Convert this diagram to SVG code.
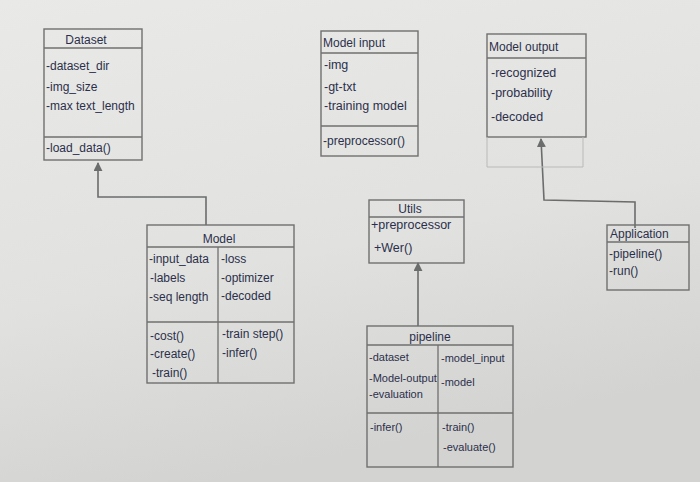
<svg xmlns="http://www.w3.org/2000/svg" width="700" height="482" viewBox="0 0 700 482">
<defs>
<linearGradient id="bg" x1="0" y1="0" x2="0.3" y2="1">
<stop offset="0" stop-color="#e9eae7"/>
<stop offset="0.6" stop-color="#e1e2df"/>
<stop offset="1" stop-color="#d3d4d1"/>
</linearGradient>
<marker id="tri" viewBox="0 0 10 10" refX="9" refY="5" markerWidth="9" markerHeight="9" orient="auto" markerUnits="userSpaceOnUse">
<path d="M0,0 L10,5 L0,10 Z" fill="#6b6c6c"/>
</marker>
<style>
.box{fill:none;stroke:#6f706f;stroke-width:1.4}
.ln{stroke:#6f706f;stroke-width:1.3;fill:none}
.faint{stroke:#b9bab8;stroke-width:1;fill:none}
.t{font-family:"Liberation Sans",Arial,sans-serif;font-size:11px;fill:#2c2f4c}
.m{font-size:12px}
.l{font-size:12.5px}
.c{text-anchor:middle}
.con{stroke:#6b6c6c;stroke-width:1.6;fill:none}
</style>
</defs>
<rect width="700" height="482" fill="url(#bg)"/>

<g id="connectors">
<polyline class="con" points="206,225 206,197 98,197 98,163" marker-end="url(#tri)"/>
<polyline class="con" points="418,326 418,263" marker-end="url(#tri)"/>
<polyline class="con" points="635,228 635,202 544,200 541,139" marker-end="url(#tri)"/>
</g>

<g id="dataset">
<rect class="box" x="44" y="29" width="98" height="131"/>
<line class="ln" x1="44" y1="48" x2="142" y2="48"/>
<line class="ln" x1="44" y1="137" x2="142" y2="137"/>
<text class="t m c" x="86" y="44">Dataset</text>
<text class="t m" x="46" y="70">-dataset_dir</text>
<text class="t m" x="46" y="91">-img_size</text>
<text class="t m" x="46" y="110">-max text_length</text>
<text class="t m" x="46" y="152">-load_data()</text>
</g>

<g id="model-input">
<rect class="box" x="321" y="31" width="97" height="125"/>
<line class="ln" x1="321" y1="53" x2="418" y2="53"/>
<line class="ln" x1="321" y1="126" x2="418" y2="126"/>
<text class="t m" x="323" y="47">Model input</text>
<text class="t l" x="324" y="69">-img</text>
<text class="t l" x="324" y="91">-gt-txt</text>
<text class="t l" x="324" y="110">-training model</text>
<text class="t m" x="323" y="145">-preprocessor()</text>
</g>

<g id="model-output">
<rect class="box" x="487" y="34" width="99" height="103"/>
<line class="ln" x1="487" y1="58" x2="586" y2="58"/>
<polyline class="faint" points="487,137 487,167 583,167 583,137"/>
<text class="t m" x="489" y="51">Model  output</text>
<text class="t l" x="491" y="77">-recognized</text>
<text class="t l" x="491" y="97">-probability</text>
<text class="t l" x="491" y="121">-decoded</text>
</g>

<g id="application">
<rect class="box" x="607" y="225" width="82" height="65"/>
<line class="ln" x1="607" y1="242" x2="689" y2="242"/>
<text class="t m" x="610" y="238">Application</text>
<text class="t m" x="609" y="258">-pipeline()</text>
<text class="t m" x="609" y="275">-run()</text>
</g>

<g id="utils">
<rect class="box" x="369" y="200" width="95" height="63"/>
<line class="ln" x1="369" y1="217" x2="464" y2="217"/>
<text class="t m c" x="410" y="213">Utils</text>
<text class="t l" x="371" y="229">+preprocessor</text>
<text class="t l" x="374" y="252">+Wer()</text>
</g>

<g id="model">
<rect class="box" x="147" y="225" width="147" height="158"/>
<line class="ln" x1="147" y1="247" x2="294" y2="247"/>
<line class="ln" x1="147" y1="322" x2="294" y2="322"/>
<line class="ln" x1="218" y1="247" x2="218" y2="383"/>
<text class="t m c" x="219" y="243">Model</text>
<text class="t m" x="149" y="263">-input_data</text>
<text class="t m" x="150" y="282">-labels</text>
<text class="t m" x="149" y="301">-seq length</text>
<text class="t m" x="221" y="263">-loss</text>
<text class="t m" x="221" y="282">-optimizer</text>
<text class="t m" x="221" y="300">-decoded</text>
<text class="t m" x="150" y="340">-cost()</text>
<text class="t m" x="150" y="358">-create()</text>
<text class="t m" x="152" y="377">-train()</text>
<text class="t m" x="222" y="338">-train step()</text>
<text class="t m" x="222" y="357">-infer()</text>
</g>

<g id="pipeline">
<rect class="box" x="367" y="326" width="146" height="141"/>
<line class="ln" x1="367" y1="345" x2="513" y2="345"/>
<line class="ln" x1="367" y1="413" x2="513" y2="413"/>
<line class="ln" x1="438" y1="345" x2="438" y2="467"/>
<text class="t m c" x="430" y="341">pipeline</text>
<text class="t" x="369" y="361">-dataset</text>
<text class="t" x="369" y="382">-Model-output</text>
<text class="t" x="369" y="398">-evaluation</text>
<text class="t" x="441" y="362">-model_input</text>
<text class="t" x="441" y="386">-model</text>
<text class="t" x="370" y="431">-infer()</text>
<text class="t" x="442" y="431">-train()</text>
<text class="t" x="443" y="451">-evaluate()</text>
</g>
</svg>
